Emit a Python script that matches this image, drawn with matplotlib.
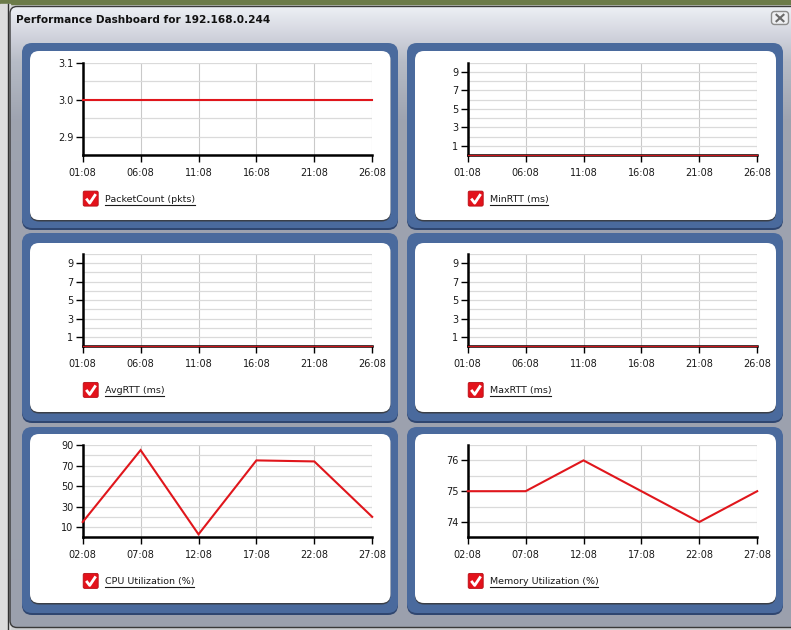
import numpy as np
import matplotlib
matplotlib.use("Agg")
import matplotlib.pyplot as plt
from matplotlib.patches import FancyBboxPatch, Rectangle
from matplotlib.ticker import MultipleLocator, FixedLocator, FormatStrFormatter

W, H = 791, 630

# time axis (minutes) and tick labels
top_minutes = [1, 6, 11, 16, 21, 26]
top_labels = ["01:08", "06:08", "11:08", "16:08", "21:08", "26:08"]
bottom_minutes = [2, 7, 12, 17, 22, 27]
bottom_labels = ["02:08", "07:08", "12:08", "17:08", "22:08", "27:08"]

# series
packet_count = [3.0, 3.0, 3.0, 3.0, 3.0, 3.0]
min_rtt = [0, 0, 0, 0, 0, 0]
avg_rtt = [0, 0, 0, 0, 0, 0]
max_rtt = [0, 0, 0, 0, 0, 0]
cpu_util = [15, 85, 3, 75, 74, 20]
mem_util = [75, 75, 76, 75, 74, 75]

names = ["PacketCount (pkts)", "MinRTT (ms)", "AvgRTT (ms)", "MaxRTT (ms)",
         "CPU Utilization (%)", "Memory Utilization (%)"]

charts = [
    dict(x=top_minutes, xl=top_labels, y=packet_count, ylim=(2.85, 3.1),
         yticks=[2.9, 3.0, 3.1], minor=0.05, fmt="%.1f"),
    dict(x=top_minutes, xl=top_labels, y=min_rtt, ylim=(0, 10),
         yticks=[1, 3, 5, 7, 9], minor=1, fmt="%d"),
    dict(x=top_minutes, xl=top_labels, y=avg_rtt, ylim=(0, 10),
         yticks=[1, 3, 5, 7, 9], minor=1, fmt="%d"),
    dict(x=top_minutes, xl=top_labels, y=max_rtt, ylim=(0, 10),
         yticks=[1, 3, 5, 7, 9], minor=1, fmt="%d"),
    dict(x=bottom_minutes, xl=bottom_labels, y=cpu_util, ylim=(0, 90),
         yticks=[10, 30, 50, 70, 90], minor=10, fmt="%d"),
    dict(x=bottom_minutes, xl=bottom_labels, y=mem_util, ylim=(73.5, 76.5),
         yticks=[74, 75, 76], minor=0.5, fmt="%d"),
]

# panel geometry in pixels
col_blue = [(22, 398), (407, 783)]
col_white = [(30, 390.5), (415, 776)]
row_blue = [(43, 228), (233, 421), (427, 613)]
row_white = [(51, 220), (243, 412), (434, 603)]
col_axis = [82.7, 467.7]
axis_w = 289.5
row_axis_top = [62.7, 254, 445]
axis_h = 92.4

fig = plt.figure(figsize=(W / 100, H / 100), dpi=100)
fig.patch.set_facecolor("#cfd0d2")

bg = fig.add_axes([0, 0, 1, 1])
bg.set_xlim(0, W)
bg.set_ylim(H, 0)
bg.axis("off")

# desktop strip on top, left edge
bg.add_patch(Rectangle((0, 0), W, 4, color="#6c7b49", zorder=1))
bg.add_patch(Rectangle((0, 4), 10, H, color="#dcdcdc", zorder=1))
bg.plot([7.5, 7.5], [4, H], color="#303030", lw=1.0, zorder=1)

# window with vertical gradient
win = FancyBboxPatch((10, 6.5), W + 20, 621, boxstyle="round,pad=0,rounding_size=7",
                     facecolor="none", edgecolor="#3a3a3a", lw=1.0, zorder=3)
bg.add_patch(win)
clip = FancyBboxPatch((10, 6.5), W + 20, 621, boxstyle="round,pad=0,rounding_size=7",
                      facecolor="none", edgecolor="none", zorder=2)
bg.add_patch(clip)
ys = np.linspace(0, H, 300)
stops_y = [6, 40, 60, 120, H]
stops_c = [(0.93, 0.94, 0.96), (0.80, 0.81, 0.85), (0.72, 0.74, 0.78),
           (0.62, 0.64, 0.69), (0.61, 0.63, 0.68)]
grad = np.zeros((len(ys), 2, 3))
for k in range(3):
    col = np.interp(ys, stops_y, [c[k] for c in stops_c])
    grad[:, 0, k] = col
    grad[:, 1, k] = col
im = bg.imshow(grad, extent=[10, W + 30, H, 0], aspect="auto", zorder=2,
               interpolation="bilinear")
im.set_clip_path(clip)
bg.set_xlim(0, W)
bg.set_ylim(H, 0)

bg.text(16, 20, "Performance Dashboard for 192.168.0.244", fontsize=7.6,
        fontweight="bold", color="#111111", va="center", ha="left", zorder=5)

# close button
bg.add_patch(FancyBboxPatch((771.5, 11.5), 17, 13, boxstyle="round,pad=0,rounding_size=3",
                            facecolor="#eeeff2", edgecolor="#8c8c8c", lw=1.0, zorder=5))
bg.plot([776.5, 783.5], [14.8, 21.2], color="#6a6a6a", lw=1.5, zorder=6)
bg.plot([776.5, 783.5], [21.2, 14.8], color="#6a6a6a", lw=1.5, zorder=6)

fig.canvas.draw()
renderer = fig.canvas.get_renderer()

for i, c in enumerate(charts):
    r, col = divmod(i, 2)
    bx0, bx1 = col_blue[col]
    by0, by1 = row_blue[r]
    wx0, wx1 = col_white[col]
    wy0, wy1 = row_white[r]

    # blue frame with darker lower edge, white card with shadow
    bg.add_patch(FancyBboxPatch((bx0, by0 + 2), bx1 - bx0, by1 - by0,
                                boxstyle="round,pad=0,rounding_size=10",
                                facecolor="#2f4670", edgecolor="none", zorder=4))
    bg.add_patch(FancyBboxPatch((bx0, by0), bx1 - bx0, by1 - by0,
                                boxstyle="round,pad=0,rounding_size=10",
                                facecolor="#4a6a9d", edgecolor="none", zorder=4))
    bg.add_patch(FancyBboxPatch((wx0, wy0 + 1.5), wx1 - wx0, wy1 - wy0,
                                boxstyle="round,pad=0,rounding_size=9",
                                facecolor="#3a3f48", edgecolor="none", zorder=4))
    bg.add_patch(FancyBboxPatch((wx0, wy0), wx1 - wx0, wy1 - wy0,
                                boxstyle="round,pad=0,rounding_size=9",
                                facecolor="white", edgecolor="none", zorder=4))

    ax_x = col_axis[col]
    ax_y = row_axis_top[r]
    ax = fig.add_axes([ax_x / W, 1 - (ax_y + axis_h) / H, axis_w / W, axis_h / H])
    ax.set_facecolor("white")
    ax.set_xlim(c["x"][0], c["x"][-1])
    ax.set_ylim(*c["ylim"])

    # a series running along zero sits thin on top of the axis line
    on_axis = max(c["y"]) == c["ylim"][0]
    ax.plot(c["x"], c["y"], color="#c8141a" if on_axis else "#e0161c",
            lw=0.9 if on_axis else 1.5, zorder=4, clip_on=False,
            solid_joinstyle="miter")

    ax.xaxis.set_major_locator(FixedLocator(c["x"]))
    ax.set_xticklabels(c["xl"])
    ax.yaxis.set_major_locator(FixedLocator(c["yticks"]))
    ax.yaxis.set_major_formatter(FormatStrFormatter(c["fmt"]))
    ax.yaxis.set_minor_locator(MultipleLocator(c["minor"]))

    ax.grid(True, axis="x", which="major", color="#c9c9c9", lw=0.8)
    ax.grid(True, axis="y", which="both", color="#dadada", lw=0.9)
    ax.set_axisbelow(True)

    for s in ["top", "right"]:
        ax.spines[s].set_visible(False)
    for s in ["left", "bottom"]:
        ax.spines[s].set_linewidth(1.8)
        ax.spines[s].set_color("black")
        ax.spines[s].set_zorder(3)

    ax.tick_params(axis="x", which="major", length=5, width=1.0, pad=4,
                   labelsize=7, colors="black", labelcolor="#1a1a1a")
    ax.tick_params(axis="y", which="major", length=4.8, width=1.0, pad=2,
                   labelsize=7, colors="black", labelcolor="#1a1a1a")
    ax.tick_params(axis="y", which="minor", length=0)

    # legend: red checkbox and underlined series name
    cbx = ax_x + 0.5
    cby = ax_y + axis_h + 36
    bg.add_patch(FancyBboxPatch((cbx, cby), 15, 15, boxstyle="round,pad=0,rounding_size=1.5",
                                facecolor="#e3121b", edgecolor="#b50d14", lw=0.6, zorder=6))
    bg.plot([cbx + 3, cbx + 6.5, cbx + 12.5], [cby + 7.5, cby + 12, cby + 3],
            color="white", lw=2.0, zorder=7, solid_capstyle="butt")
    t = bg.text(ax_x + 22, cby + 8.5, names[i], fontsize=6.8, color="#1a1a1a",
                va="center", ha="left", zorder=7)
    tw = t.get_window_extent(renderer=renderer).width
    bg.plot([ax_x + 22, ax_x + 22 + tw], [cby + 14, cby + 14], color="#1a1a1a",
            lw=0.8, zorder=7)

fig.savefig("out.png", dpi=100)
